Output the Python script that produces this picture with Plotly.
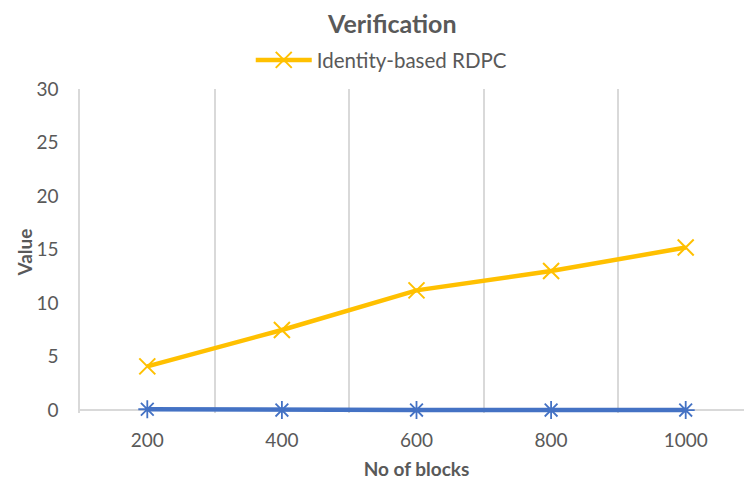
import plotly.graph_objects as go

categories = ["200", "400", "600", "800", "1000"]
rdpc_values = [4.1, 7.5, 11.2, 13.0, 15.2]
other_values = [0.1, 0.02, 0.02, 0.02, 0.02]
y_ticks = [0, 5, 10, 15, 20, 25, 30]

font_family = "Lato, 'Open Sans', sans-serif"
grey = "#595959"

fig = go.Figure()
fig.add_trace(go.Scatter(
    x=categories, y=other_values, mode="lines+markers", name="Baseline",
    showlegend=False, cliponaxis=False,
    line=dict(color="#4472C4", width=4.5),
    marker=dict(symbol="asterisk-open", size=15, line=dict(color="#4472C4", width=1.8)),
))
fig.add_trace(go.Scatter(
    x=categories, y=rdpc_values, mode="lines+markers", name="Identity-based RDPC",
    cliponaxis=False,
    line=dict(color="#FFC000", width=4.5),
    marker=dict(symbol="x-thin-open", size=16, line=dict(color="#FFC000", width=2)),
))

fig.update_layout(
    width=752, height=482,
    margin=dict(l=72, r=7, t=81, b=77, autoexpand=False),
    paper_bgcolor="white", plot_bgcolor="white",
    font=dict(family=font_family, color=grey, size=19),
    title=dict(text="<b>Verification</b>", x=0.511, xanchor="center", y=0.966, yanchor="middle",
               yref="container",
               font=dict(size=25, color=grey, family=font_family)),
    legend=dict(orientation="h", x=0.497, xanchor="center", xref="container",
                y=0.892, yref="container", yanchor="middle",
                font=dict(size=20.5, color=grey), bgcolor="rgba(0,0,0,0)",
                itemwidth=56),
    xaxis=dict(
        type="category", range=[-0.5, 4.5], tickson="boundaries",
        showgrid=True, gridcolor="#D9D9D9", gridwidth=1.5,
        showline=False, automargin=False,
        ticks="", tickfont=dict(size=19, color=grey), ticklabelstandoff=14,
        title=dict(text="<b>No of blocks</b>", font=dict(size=19, color=grey), standoff=12),
        zeroline=False,
    ),
    yaxis=dict(
        range=[-0.25, 30], tickvals=y_ticks, showgrid=False, automargin=False,
        showline=True, linecolor="#D9D9D9", linewidth=1.5,
        zeroline=True, zerolinecolor="#D9D9D9", zerolinewidth=1.5,
        ticks="", tickfont=dict(size=19, color=grey), ticklabelstandoff=16,
    ),
    annotations=[dict(
        text="<b>Value</b>", xref="paper", yref="paper", x=0, y=0.495,
        xanchor="center", yanchor="middle", xshift=-55, textangle=-90,
        showarrow=False, font=dict(size=19, color=grey),
    )],
)

fig.write_html("out.html")
